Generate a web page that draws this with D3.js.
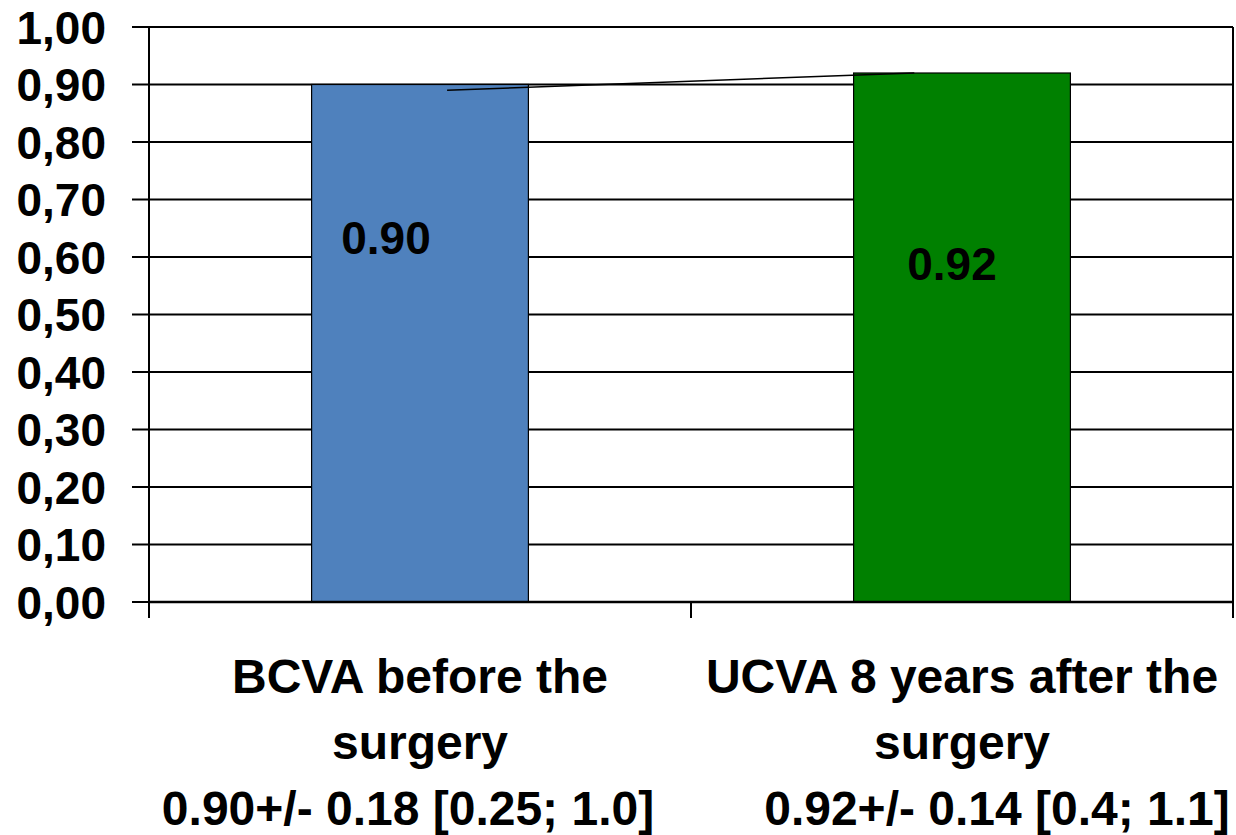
<!DOCTYPE html>
<html>
<head>
<meta charset="utf-8">
<script src="https://cdn.jsdelivr.net/npm/d3@7"></script>
<style>
	body { margin: 0; background: #fff; }
	text { font-family: Arial, "Liberation Sans", sans-serif; font-weight: bold; fill: #000; }
</style>
</head>
<body>
<svg id="chart" width="1236" height="835"></svg>
<script>
// chart data
const categories = ["BCVA", "UCVA"];
const labelLineOne = ["BCVA before the", "UCVA 8 years after the"];
const labelLineTwo = ["surgery", "surgery"];
const statLabels = ["0.90+/- 0.18 [0.25; 1.0]", "0.92+/- 0.14 [0.4; 1.1]"];
const values = [0.90, 0.92];
const valueLabels = ["0.90", "0.92"];
const barColors = ["#4F81BD", "#008000"];
const yTicks = [0, 0.1, 0.2, 0.3, 0.4, 0.5, 0.6, 0.7, 0.8, 0.9, 1.0];
// the thin line drawn across the bar tops
const connector = [0.89, 0.92];

const svg = d3.select("#chart");

const plotLeft = 149, plotRight = 1233, plotTop = 27, plotBottom = 602;

let x = d3.scaleBand()
	.domain(categories)
	.range([plotLeft, plotRight])
	.paddingInner(0.6)
	.paddingOuter(0.3);

let y = d3.scaleLinear()
	.domain([0, 1])
	.range([plotBottom, plotTop]);

const fmt = d3.formatLocale({decimal: ",", thousands: ".", grouping: [3], currency: ["", ""]}).format(".2f");

// gridlines + y ticks
svg.append("g")
	.selectAll("line")
	.data(yTicks)
	.enter()
	.append("line")
	.attr("x1", plotLeft - 17)
	.attr("x2", plotRight)
	.attr("y1", d => y(d))
	.attr("y2", d => y(d))
	.attr("stroke", "#000")
	.attr("stroke-width", 2);

svg.append("g")
	.selectAll("text")
	.data(yTicks)
	.enter()
	.append("text")
	.attr("x", plotLeft - 43)
	.attr("y", d => y(d))
	.attr("dy", "0.36em")
	.attr("text-anchor", "end")
	.style("font-size", "46px")
	.text(d => fmt(d));

// bars
svg.append("g")
	.selectAll("rect")
	.data(values)
	.enter()
	.append("rect")
	.attr("x", (d, i) => x(categories[i]))
	.attr("width", x.bandwidth())
	.attr("y", d => y(d))
	.attr("height", d => y(0) - y(d))
	.attr("fill", (d, i) => barColors[i])
	.attr("stroke", "#000")
	.attr("stroke-width", 1.2);

// axes lines: left axis, right border, x axis with ticks at band edges
svg.append("line")
	.attr("x1", plotLeft).attr("x2", plotLeft)
	.attr("y1", y(1)).attr("y2", y(0) + 16)
	.attr("stroke", "#000").attr("stroke-width", 2);
svg.append("line")
	.attr("x1", plotRight).attr("x2", plotRight)
	.attr("y1", y(1)).attr("y2", y(0) + 16)
	.attr("stroke", "#000").attr("stroke-width", 2);
svg.append("line")
	.attr("x1", plotLeft).attr("x2", plotRight)
	.attr("y1", y(0)).attr("y2", y(0))
	.attr("stroke", "#000").attr("stroke-width", 2.5);
svg.append("line")
	.attr("x1", x(categories[1]) - x.step() * x.paddingInner() / 2)
	.attr("x2", x(categories[1]) - x.step() * x.paddingInner() / 2)
	.attr("y1", y(0)).attr("y2", y(0) + 16)
	.attr("stroke", "#000").attr("stroke-width", 2);

// connector line
svg.append("line")
	.attr("x1", x(categories[0]) + x.bandwidth() * 0.625)
	.attr("y1", y(connector[0]))
	.attr("x2", x(categories[1]) + x.bandwidth() * 0.28)
	.attr("y2", y(connector[1]))
	.attr("stroke", "#000")
	.attr("stroke-width", 1.5);

// value labels inside bars
const labelShift = [[-34, 0.605], [-10, 0.56]];
svg.append("g")
	.selectAll("text")
	.data(valueLabels)
	.enter()
	.append("text")
	.attr("x", (d, i) => x(categories[i]) + x.bandwidth() / 2 + labelShift[i][0])
	.attr("y", (d, i) => y(labelShift[i][1]))
	.attr("text-anchor", "middle")
	.style("font-size", "46px")
	.text(d => d);

// category labels
const cx = i => x(categories[i]) + x.bandwidth() / 2;
svg.append("g")
	.selectAll("text")
	.data(labelLineOne)
	.enter()
	.append("text")
	.attr("x", (d, i) => cx(i))
	.attr("y", 693)
	.attr("text-anchor", "middle")
	.style("font-size", "48px")
	.text(d => d);

svg.append("g")
	.selectAll("text")
	.data(labelLineTwo)
	.enter()
	.append("text")
	.attr("x", (d, i) => cx(i))
	.attr("y", 759)
	.attr("text-anchor", "middle")
	.style("font-size", "48px")
	.text(d => d);

const statShift = [-12, 35];
svg.append("g")
	.selectAll("text")
	.data(statLabels)
	.enter()
	.append("text")
	.attr("x", (d, i) => cx(i) + statShift[i])
	.attr("y", 825)
	.attr("text-anchor", "middle")
	.style("font-size", "48px")
	.text(d => d);
</script>
</body>
</html>
